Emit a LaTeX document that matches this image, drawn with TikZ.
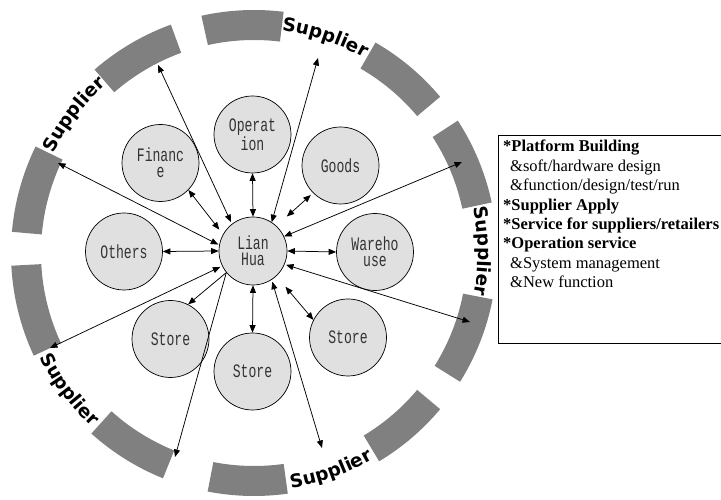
\documentclass[tikz,border=0pt]{standalone}
\usepackage{fontspec}
\setmainfont{Liberation Serif}
\newfontfamily\discfont[FakeStretch=0.69]{Liberation Mono}
\newfontfamily\ringfont{DejaVu Sans}
\usetikzlibrary{arrows.meta,decorations.text}

\definecolor{ringgray}{HTML}{808080}
\definecolor{discfill}{HTML}{E0E0E0}

\begin{document}
\begin{tikzpicture}[x=1pt,y=1pt,
  disc/.style={circle, draw=black, line width=0.7pt, fill=discfill,
    minimum size=77pt, inner sep=0pt, align=center,
    font=\discfont\fontsize{19}{15.6}\selectfont, text=black!80},
  hub/.style={disc, minimum size=68pt},
  link/.style={line width=0.75pt, {Triangle[length=7.5pt,width=6pt]}-{Triangle[length=7.5pt,width=6pt]}},
  tolink/.style={line width=0.75pt, -{Triangle[length=7.5pt,width=6pt]}},
  arcseg/.style={fill=ringgray},
  ringlabel/.style={decorate, decoration={text along path, text align=center,
    text={|\ringfont\bfseries\fontsize{18.5}{20}\selectfont|Supplier}}},
  boxline/.style={anchor=base west, inner sep=0pt, font=\fontsize{16.5}{19}\selectfont},
  boxhead/.style={boxline, font=\bfseries\fontsize{16.5}{19}\selectfont}
]
\useasboundingbox (0,0) rectangle (721,500);

% dashed outer ring of supplier segments
\begin{scope}[shift={(254,247)}]
  \foreach \a/\b in {83/102.5, 110/131, 154/175, 183/205, 228/248,
                     259/278, 301/320, 328/349, 12/33, 40/60}{
    \fill[arcseg] (\a:213pt) arc[start angle=\a, end angle=\b, radius=213pt]
      -- (\b:243pt) arc[start angle=\b, end angle=\a, radius=243pt] -- cycle;
  }
  % labels on the upper arcs run clockwise, on the lower arcs anticlockwise
  \path[ringlabel] (87.7:224pt) arc[start angle=87.7, end angle=55.7, radius=224pt];
  \path[ringlabel] (158.5:224pt) arc[start angle=158.5, end angle=126.5, radius=224pt];
  \path[ringlabel] (16.5:224pt) arc[start angle=16.5, end angle=-15.5, radius=224pt];
  \path[ringlabel] (273.5:238pt) arc[start angle=273.5, end angle=305.5, radius=238pt];
  \path[ringlabel] (200.5:238pt) arc[start angle=200.5, end angle=232.5, radius=238pt];
\end{scope}

% hub and departments
\node[hub]  (lh)    at (253,249)     {Lian\\Hua};
\node[disc] (op)    at (252.5,365.5) {Operat\\ion};
\node[disc] (fin)   at (160.5,337)   {Financ\\e};
\node[disc] (goods) at (340.5,334.5) {Goods};
\node[disc] (oth)   at (124,248.5)   {Others};
\node[disc] (wh)    at (375,248)     {Wareho\\use};
\node[disc] (sl)    at (170.5,161)   {Store};
\node[disc] (sb)    at (252.5,128.5) {Store};
\node[disc] (sr)    at (348,162.5)   {Store};

% ends of the long links on the ring
\coordinate (rTL) at (158,435);
\coordinate (rT)  at (318,442);
\coordinate (rUR) at (462,338);
\coordinate (rLR) at (470,178);
\coordinate (rBR) at (322,52);
\coordinate (rBL) at (175,43);
\coordinate (rLL) at (50,152);
\coordinate (rUL) at (58,337);

% links from the hub out to the suppliers
\draw[link, shorten <=2pt] (lh.128) -- (rTL);
\draw[link] (lh.57) -- (rT);
\draw[link] (lh.25) -- (rUR);
\draw[link, shorten <=1.5pt] (lh.-23) -- (rLR);
\draw[link, shorten <=2pt] (lh.-57) -- (rBR);
\draw[tolink] (lh.219) -- (rBL);
\draw[link, shorten <=2pt] (lh.206) -- (rLL);
\draw[link, shorten <=1pt] (lh.170) -- (rUL);

% links from the hub to the departments
\draw[link] (op.south) -- (lh.north);
\draw[link, shorten >=6pt] (fin.-44) -- (lh.151.5);
\draw[link, shorten <=14pt, shorten >=3pt] (lh.47) -- (goods.225.5);
\draw[link] (oth.east) -- (lh.west);
\draw[link] (lh.east) -- (wh.west);
\draw[link, shorten <=14pt] (lh.-47) -- (sr.153);
\draw[link] (lh.south) -- (sb.north);
\draw[tolink] (lh.219) -- (sl.63.5);

% service panel
\draw[line width=0.7pt] (724,365) -- (498,365) -- (498,157) -- (724,157);
\node[boxhead] (t1) at (503,348)   {*Platform Building};
\node[boxline] (t2) at (510,328.6) {\&soft/hardware design};
\node[boxline] (t3) at (510,309.2) {\&function/design/test/run};
\node[boxhead] (t4) at (503,289.8) {*Supplier Apply};
\node[boxhead] (t5) at (503,270.4) {*Service for suppliers/retailers};
\node[boxhead] (t6) at (503,251)   {*Operation service};
\node[boxline] (t7) at (510,231.6) {\&System management};
\node[boxline] (t8) at (510,212.2) {\&New function};
\end{tikzpicture}
\end{document}
